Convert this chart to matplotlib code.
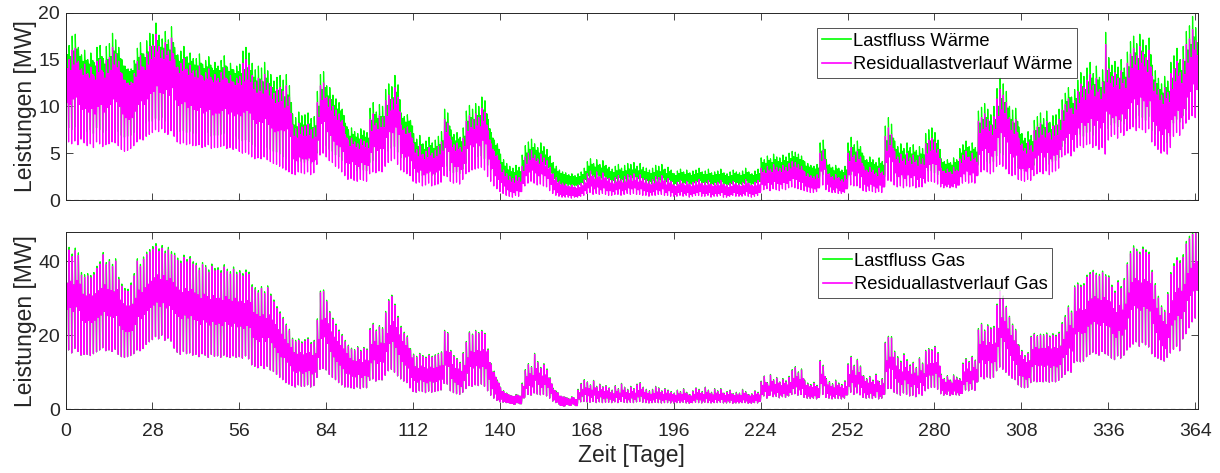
import numpy as np
import matplotlib
matplotlib.use("Agg")
import matplotlib.pyplot as plt

# ---------------- data ----------------
# Residuallastverlauf Waerme: daily night low / morning peak / daytime level [MW]
w_res_peak = [
    15.5,15.0,16.0,16.2,14.8,14.0,14.5, 13.5,14.2,13.2,14.8,15.0,13.6,14.9,
    15.2,16.3,15.6,14.8,13.5,12.8,12.5, 12.6,13.5,14.8,15.4,14.2,15.6,16.4,
    16.5,17.7,16.4,16.0,16.8,15.9,17.3, 15.0,14.2,14.6,15.1,14.0,14.4,13.8,
    13.8,14.3,13.2,13.6,14.0,12.8,13.4, 13.0,13.6,14.1,12.9,13.3,12.6,13.0,
    13.2,14.6,15.0,14.4,13.3,12.6,13.0, 12.8,13.4,12.5,12.1,11.4,11.8,12.0,
    11.6,12.2,11.0,8.0,7.6,8.2,7.8, 7.9,8.1,7.5,7.7,10.4,12.2,12.5,
    11.0,10.8,10.0,9.6,9.2,8.5,7.0, 6.4,6.6,6.2,6.0,6.5,6.3,6.1,
    8.6,9.2,8.2,9.0,8.8,10.6,11.2, 10.8,12.0,11.0,8.0,7.6,7.8,7.2,
    6.0,5.4,5.8,4.9,5.2,5.6,5.0, 5.3,5.7,6.2,8.6,8.2,6.4,5.9,
    6.1,5.6,6.6,8.4,9.0,8.6,9.2, 8.8,9.8,9.4,7.4,6.0,5.2,4.8,
    3.8,3.2,2.8,2.5,2.3,2.6,2.4, 3.6,4.6,5.0,5.3,4.8,4.4,4.9,
    4.5,4.2,3.5,2.8,2.4,2.0,1.8, 1.7,1.5,1.6,1.4,1.6,1.8,2.2,
    2.8,3.1,2.6,3.0,2.5,2.9,2.4, 2.3,2.1,2.4,2.6,2.2,2.5,2.7,
    2.6,2.8,2.4,2.7,2.3,2.2,2.0, 2.2,2.5,2.4,2.6,2.1,2.3,2.0,
    1.6,1.9,2.1,1.8,2.0,1.7,1.9, 2.0,2.2,1.8,1.9,2.1,1.7,1.8,
    1.9,2.1,1.7,1.6,1.8,2.0,1.8, 1.7,1.9,2.2,1.8,1.6,1.9,2.1,
    3.4,3.2,3.6,3.3,3.8,3.5,3.4, 3.7,3.5,3.9,4.1,4.0,3.8,3.6,
    3.0,2.8,2.6,2.5,2.7,5.0,5.3, 3.3,2.8,2.5,2.7,2.4,2.2,2.6,
    5.0,5.6,4.8,5.2,4.6,3.6,3.2, 3.5,3.2,2.9,3.4,3.0,6.8,7.7,
    7.0,5.2,4.6,4.9,4.4,5.0,4.5, 4.8,4.2,4.6,4.4,6.0,6.4,6.6,
    6.2,5.4,3.4,3.1,3.3,3.0,3.5, 3.2,4.4,4.8,5.2,4.6,5.0,4.5,
    8.4,8.8,9.2,8.6,8.0,8.9,10.8, 11.8,11.2,10.4,8.8,8.4,8.6,6.6,
    6.0,5.5,6.2,5.8,7.4,7.8,8.2, 7.6,8.4,7.2,7.9,8.0,8.6,9.6,
    10.2,10.8,9.8,10.6,11.6,12.4,12.0, 12.8,13.4,12.2,13.0,11.8,12.6,16.6,
    14.0,13.2,13.6,13.0,13.8,12.9,14.6, 15.6,16.2,15.4,16.4,15.8,15.2,16.0,
    13.2,12.6,11.8,11.2,12.0,11.5,13.5, 14.0,14.8,13.6,15.0,16.6,17.2,18.2,
    17.0]
w_res_low = [
    0.0,6.2,6.0,6.3,5.9,6.5,6.1, 5.8,6.0,5.6,6.2,6.0,5.7,5.9,
    6.0,6.2,6.1,5.8,5.4,5.2,5.3, 5.5,5.8,6.2,6.5,6.4,6.8,7.0,
    7.2,7.5,7.3,7.6,7.2,7.0,7.4, 6.8,6.2,6.0,6.1,5.9,6.0,5.8,
    5.8,5.9,5.6,5.7,5.9,5.5,5.6, 5.6,5.7,5.8,5.5,5.6,5.4,5.5,
    5.2,5.0,5.1,4.9,4.6,4.4,4.5, 4.4,4.6,4.3,4.1,3.9,3.8,3.6,
    3.4,3.2,3.0,2.8,2.7,3.0,2.9, 2.8,3.0,2.7,2.9,3.8,4.8,5.0,
    4.6,4.2,4.0,3.6,3.4,3.0,2.6, 2.2,2.3,2.1,2.0,2.2,2.1,2.0,
    2.8,3.0,2.9,3.1,3.0,3.6,4.0, 4.2,4.4,3.8,3.2,3.0,2.8,2.6,
    2.0,1.8,1.9,1.5,1.6,1.8,1.5, 1.6,1.7,1.9,2.6,2.5,2.0,1.8,
    1.9,1.7,2.2,2.8,3.0,3.2,3.3, 3.4,3.5,3.2,2.5,2.0,1.5,1.2,
    0.9,0.7,0.5,0.4,0.3,0.5,0.4, 0.9,1.5,1.8,2.0,1.8,1.6,1.7,
    1.5,1.4,1.0,0.7,0.5,0.4,0.3, 0.3,0.3,0.2,0.3,0.3,0.4,0.5,
    0.7,0.8,0.6,0.7,0.6,0.7,0.6, 0.5,0.5,0.6,0.6,0.5,0.6,0.7,
    0.6,0.7,0.6,0.6,0.5,0.5,0.4, 0.5,0.5,0.6,0.6,0.5,0.5,0.4,
    0.4,0.4,0.5,0.4,0.5,0.3,0.4, 0.5,0.5,0.4,0.4,0.5,0.3,0.4,
    0.4,0.5,0.3,0.3,0.4,0.5,0.4, 0.4,0.4,0.5,0.4,0.3,0.4,0.5,
    1.0,1.1,1.2,1.0,1.2,1.1,1.0, 1.2,1.1,1.3,1.4,1.3,1.2,1.1,
    1.0,0.9,0.8,0.8,0.9,1.5,1.6, 1.1,0.9,0.8,0.8,0.7,0.7,0.8,
    1.4,1.6,1.5,1.5,1.3,1.0,0.9, 1.0,0.9,0.8,0.9,0.8,1.8,2.1,
    2.0,1.6,1.4,1.5,1.3,1.5,1.4, 1.5,1.3,1.4,1.4,1.8,2.0,2.0,
    1.9,1.7,1.4,1.3,1.4,1.3,1.4, 1.3,1.6,1.8,2.0,1.8,1.9,1.8,
    2.8,3.0,3.2,3.0,2.8,3.0,3.6, 3.8,3.6,3.3,2.8,2.6,2.7,2.2,
    2.1,2.0,2.2,2.1,2.6,2.8,3.0, 2.8,3.1,2.7,3.0,3.1,3.4,4.6,
    4.8,5.0,4.7,5.2,5.6,5.8,5.6, 5.9,6.0,5.6,5.8,5.4,5.6,4.9,
    6.4,6.8,7.0,6.6,7.2,6.9,7.4, 7.6,7.8,7.4,7.7,7.5,7.2,7.6,
    6.2,5.8,5.4,5.0,5.2,4.9,5.6, 6.8,7.2,6.9,7.6,8.2,8.6,9.0,
    8.8]
w_res_mid = [
    12.2,12.0,12.6,12.8,12.0,11.5,11.6, 11.2,11.6,11.0,11.8,12.0,11.2,11.7,
    12.0,12.6,12.3,11.8,11.0,10.6,10.4, 10.6,11.3,12.0,12.4,12.0,12.6,13.2,
    13.4,14.0,13.3,13.2,13.6,13.0,13.8, 12.4,11.8,12.0,12.2,11.6,11.8,11.4,
    11.3,11.6,11.0,11.2,11.4,10.8,11.0, 10.9,11.2,11.4,10.8,11.0,10.6,10.8,
    10.6,11.0,11.2,10.9,10.2,9.8,10.0, 9.8,10.2,9.6,9.2,8.8,8.9,9.0,
    8.6,8.8,8.0,5.6,5.4,5.8,5.6, 5.6,5.7,5.3,5.5,7.6,9.4,9.6,
    8.6,8.2,7.6,7.2,7.0,6.5,5.3, 4.8,5.0,4.7,4.5,4.9,4.7,4.6,
    6.2,6.8,6.4,6.6,6.6,7.8,8.4, 8.4,9.0,8.2,6.2,5.8,5.9,5.4,
    4.2,3.8,4.0,3.5,3.7,3.9,3.6, 3.8,4.0,4.4,6.4,6.0,4.8,4.4,
    4.5,4.2,4.8,6.4,6.8,6.6,7.0, 6.8,7.4,7.0,5.4,4.4,3.6,3.2,
    2.4,2.0,1.6,1.4,1.3,1.5,1.4, 2.4,3.2,3.6,3.8,3.5,3.2,3.4,
    3.1,2.8,2.2,1.6,1.3,1.1,1.0, 1.0,0.9,0.9,0.8,0.9,1.1,1.4,
    1.8,2.0,1.7,1.9,1.6,1.8,1.5, 1.4,1.3,1.5,1.6,1.4,1.5,1.7,
    1.6,1.7,1.5,1.6,1.4,1.3,1.2, 1.3,1.5,1.4,1.6,1.2,1.4,1.2,
    1.0,1.2,1.3,1.1,1.2,1.0,1.1, 1.2,1.3,1.1,1.1,1.2,1.0,1.1,
    1.1,1.2,1.0,0.9,1.0,1.2,1.1, 1.0,1.1,1.3,1.1,1.0,1.1,1.2,
    2.3,2.2,2.5,2.3,2.6,2.4,2.3, 2.5,2.4,2.7,2.9,2.8,2.6,2.5,
    2.0,1.9,1.8,1.7,1.8,3.6,3.8, 2.2,1.9,1.6,1.8,1.5,1.4,1.7,
    3.4,3.8,3.3,3.6,3.2,2.4,2.2, 2.3,2.1,1.9,2.2,2.0,4.6,5.2,
    4.8,3.6,3.2,3.4,3.0,3.4,3.1, 3.3,2.9,3.1,3.0,4.2,4.5,4.6,
    4.4,3.8,2.4,2.2,2.3,2.1,2.4, 2.3,3.2,3.5,3.8,3.4,3.6,3.3,
    6.0,6.4,6.6,6.2,5.8,6.4,7.8, 8.4,8.0,7.4,6.2,5.8,6.0,4.6,
    4.3,4.0,4.4,4.2,5.4,5.7,6.0, 5.6,6.1,5.4,5.8,5.9,6.4,7.4,
    8.0,8.4,7.8,8.3,9.0,9.6,9.3, 9.8,10.2,9.5,10.0,9.2,9.8,11.0,
    10.8,10.4,10.6,10.2,10.8,10.3,11.4, 12.2,12.6,12.0,12.8,12.4,11.8,12.4,
    10.0,9.6,9.0,8.6,9.2,8.8,10.2, 10.8,11.4,10.6,11.6,12.8,13.4,14.2,
    13.6]
# half width of the dense daytime band, per week [MW]
w_band_hw = [
    1.8,1.8,1.8,1.8,1.8,1.7,1.7,1.6,1.6,1.5, 1.2,1.2,1.3,0.9,1.1,1.2,0.8,0.8,0.9,1.0,
    0.5,0.6,0.5,0.4,0.5,0.4,0.4,0.4,0.4,0.4, 0.4,0.4,0.6,0.6,0.5,0.5,0.7,0.6,0.7,0.7,
    0.6,0.7,1.1,1.2,0.9,1.0,1.3,1.5,1.6,1.8, 1.6,1.8,1.8]
# Lastfluss Waerme lies above the residual load by this weekly offset [MW]
w_gap_weekly = [
    1.5,1.5,1.5,1.4,1.2,1.3,1.3,1.3,1.3,1.3,1.2,1.2,1.2,1.1,1.2,1.3,
    1.1,1.1,1.1,1.2,1.1,1.2,1.2,1.2,1.3,1.2,1.2,1.2,1.2,1.2,1.2,1.2,
    1.1,1.1,1.1,1.0,1.1,1.1,1.1,1.1,1.0,1.1,1.1,1.2,1.1,1.1,1.2,1.3,
    1.2,1.3,1.2,1.4,1.4]

# Residuallastverlauf Gas: daily night low / morning peak / daytime level [MW]
g_res_peak = [
    42.5,43.0,41.2,42.8,41.5,36.2,35.6, 36.0,35.5,36.3,38.0,39.2,41.7,39.0,
    39.8,38.5,40.0,35.0,33.2,32.0,31.8, 33.5,36.0,40.0,38.5,40.5,41.8,42.5,
    43.2,44.0,42.6,43.5,42.0,43.0,41.8, 41.5,40.2,39.4,41.0,39.8,40.6,39.2,
    38.8,37.5,39.0,38.2,37.0,38.6,37.4, 37.6,36.8,38.4,37.2,36.5,37.8,36.4,
    36.8,36.0,37.0,36.4,33.0,32.2,31.4, 32.6,31.2,32.8,30.6,29.0,27.2,25.8,
    24.4,22.6,21.2,18.8,18.2,18.6,17.8, 18.4,18.9,17.6,18.2,24.0,31.5,31.8,
    29.0,26.0,24.2,22.6,21.0,19.8,18.2, 17.0,16.2,15.8,16.6,15.6,16.4,16.0,
    21.4,22.8,21.0,22.2,21.6,26.0,29.2, 30.4,28.0,24.7,22.0,20.4,19.4,16.0,
    14.6,14.0,14.8,14.2,13.8,14.5,14.0, 14.4,14.8,15.2,21.0,20.4,15.6,14.2,
    13.4,12.4,15.0,18.0,20.6,20.0,21.0, 20.4,21.0,20.2,16.0,12.0,10.0,7.6,
    5.8,4.8,4.2,3.6,3.2,3.8,3.4, 6.8,10.4,12.0,11.2,14.8,12.6,11.0,
    12.0,10.6,8.2,5.4,4.6,3.2,2.8, 3.0,2.6,3.2,2.4,5.2,6.8,7.8,
    7.2,6.4,7.6,6.0,6.6,5.9,6.2, 5.6,5.0,6.2,5.4,6.8,5.8,5.2,
    6.0,5.4,6.6,7.0,5.8,5.2,4.8, 5.2,6.0,5.6,4.8,5.4,5.0,4.6,
    4.2,5.0,4.6,5.4,4.4,3.8,4.8, 5.6,5.2,4.6,5.8,5.0,4.4,5.4,
    4.8,5.4,4.2,4.6,5.0,4.0,4.4, 4.2,5.2,4.6,3.8,4.0,4.8,4.4,
    7.4,8.8,7.0,9.2,7.8,8.4,7.2, 8.0,7.4,8.6,10.4,11.2,9.8,10.6,
    7.6,6.8,6.4,7.0,6.2,12.9,11.6, 8.0,7.2,6.6,7.6,6.8,6.4,7.4,
    12.0,14.0,11.6,13.2,11.4,8.8,8.0, 8.6,7.6,9.2,7.2,8.0,17.8,19.4,
    19.2,15.3,13.8,12.6,14.6,13.0,11.6, 12.4,11.0,13.6,12.2,15.6,16.1,15.8,
    16.7,15.0,9.2,8.0,8.8,7.6,9.0, 8.4,8.0,12.2,13.4,12.6,14.0,13.0,
    21.4,22.8,21.0,22.4,21.6,22.0,28.0, 31.8,30.2,27.4,24.7,22.6,21.2,17.0,
    15.6,14.2,15.0,19.4,20.2,19.6,20.0, 19.8,20.2,19.4,20.0,19.6,20.4,23.0,
    24.8,27.4,26.0,32.8,33.6,33.0,33.4, 35.7,36.4,37.0,36.2,35.9,36.8,35.8,
    35.5,33.0,31.4,34.2,32.6,34.8,39.0, 42.0,43.5,42.6,41.8,43.2,42.4,41.8,
    37.0,33.4,30.0,27.4,26.2,31.0,36.4, 38.6,40.2,39.4,41.0,44.6,46.0,47.2,
    47.7]
g_res_low = [
    0.0,16.0,15.2,16.4,15.6,14.6,14.8, 14.8,14.5,15.0,15.5,16.0,16.6,15.8,
    16.0,15.6,16.2,14.8,14.2,14.0,14.2, 14.5,15.0,16.0,15.8,16.4,17.5,18.2,
    18.8,19.6,19.0,20.0,18.6,19.2,18.4, 16.5,15.4,14.8,15.6,15.0,15.2,14.6,
    14.8,14.2,15.0,14.6,14.0,14.8,14.3, 14.4,14.0,14.6,14.2,14.0,14.4,14.0,
    14.2,13.8,14.4,13.6,12.0,11.6,11.2, 11.8,11.0,11.6,10.6,10.2,9.4,8.6,
    8.0,7.2,6.8,6.4,6.0,6.6,6.2, 6.2,6.6,6.0,6.4,8.6,10.8,11.0,
    10.6,9.4,8.6,8.0,7.2,6.6,6.0, 6.0,5.8,5.6,6.0,5.6,5.9,5.8,
    7.8,8.2,7.6,8.0,7.9,9.2,10.4, 10.8,10.0,9.0,8.2,7.6,7.2,5.8,
    4.8,4.6,5.0,4.8,4.5,4.9,4.6, 4.8,5.0,5.2,7.0,6.8,5.0,4.5,
    4.2,4.0,4.6,5.6,6.4,6.2,6.6, 6.4,6.8,6.2,5.0,3.8,3.0,2.4,
    2.0,1.9,1.8,1.7,1.6,1.8,1.7, 2.4,3.6,4.0,3.8,4.4,4.1,3.9,
    4.0,3.6,3.0,2.2,1.8,1.4,1.3, 1.3,1.2,1.3,1.2,1.8,2.0,2.1,
    2.0,1.9,2.1,1.8,2.0,1.8,1.9, 1.9,1.8,2.0,1.8,2.1,1.9,1.8,
    1.9,1.8,2.0,2.1,1.9,1.8,1.7, 1.8,1.9,1.8,1.7,1.8,1.8,1.7,
    1.7,1.8,1.8,1.9,1.7,1.6,1.8, 1.9,1.8,1.7,1.9,1.8,1.7,1.8,
    1.8,1.9,1.7,1.7,1.8,1.6,1.7, 1.7,1.8,1.8,1.6,1.6,1.8,1.7,
    3.2,3.6,3.0,3.8,3.4,3.5,3.1, 3.4,3.2,3.6,4.0,4.2,3.8,4.0,
    3.2,3.0,2.9,3.0,2.8,4.4,4.0, 3.2,3.0,2.8,3.0,2.9,2.8,3.0,
    4.0,4.6,4.0,4.4,3.9,3.2,3.0, 3.1,2.9,3.2,2.8,3.0,5.2,5.6,
    5.6,4.6,4.2,3.8,4.4,4.0,3.6, 3.8,3.4,4.2,3.8,5.0,5.6,5.9,
    5.9,5.4,4.2,3.8,4.0,3.7,4.0, 3.9,3.8,4.8,5.2,5.0,5.4,5.1,
    8.4,8.8,8.2,8.7,8.4,8.6,10.4, 11.4,10.8,10.0,9.2,8.4,8.0,6.6,
    6.0,5.8,5.9,7.2,7.6,7.4,7.5, 7.4,7.6,7.3,7.5,7.4,7.8,8.6,
    9.4,10.4,10.0,12.6,13.0,12.8,13.0, 14.2,14.8,15.4,15.0,14.6,15.6,15.0,
    14.6,13.8,13.4,14.4,13.8,14.6,16.0, 16.8,17.6,18.2,17.0,18.0,17.4,16.8,
    15.0,14.2,13.8,13.4,13.0,14.0,15.2, 16.2,17.0,15.8,19.0,20.4,22.0,23.6,
    24.6]
g_res_mid = [
    30.5,31.0,30.0,31.2,30.2,27.5,27.0, 27.5,27.0,27.6,28.4,29.0,30.0,28.8,
    28.6,28.2,28.8,26.0,25.0,24.4,24.4, 24.8,26.4,28.6,28.0,29.2,30.2,31.0,
    31.8,32.6,31.4,32.4,31.0,31.6,30.6, 29.4,28.6,28.0,29.0,28.2,28.8,27.8,
    27.4,26.4,27.6,27.0,26.2,27.2,26.4, 26.6,26.0,27.0,26.2,25.8,26.6,25.6,
    25.8,25.2,26.0,25.4,22.8,22.2,21.6, 22.4,21.4,22.4,21.0,19.8,18.4,17.2,
    16.4,15.2,14.2,12.8,12.4,12.8,12.2, 12.6,12.9,12.0,12.5,16.4,21.6,22.0,
    20.4,18.2,16.8,15.6,14.6,13.6,12.4, 11.6,11.0,10.8,11.4,10.6,11.2,11.0,
    15.0,15.8,14.8,15.4,15.2,18.0,20.2, 21.0,19.4,17.4,15.6,14.6,13.8,11.2,
    9.6,9.2,9.8,9.4,9.0,9.5,9.2, 9.4,9.8,10.0,13.8,13.4,10.2,9.2,
    8.8,8.2,9.8,11.8,13.6,13.2,13.8, 13.4,13.8,13.2,10.4,7.8,6.4,4.8,
    3.8,3.2,2.9,2.6,2.4,2.8,2.5, 4.6,7.2,8.0,7.6,9.4,8.2,7.4,
    8.0,7.2,5.6,3.8,3.2,2.3,2.1, 2.2,1.9,2.3,1.8,3.6,4.4,4.9,
    4.6,4.2,4.8,3.9,4.3,3.8,4.0, 3.6,3.3,4.0,3.5,4.3,3.7,3.4,
    3.9,3.5,4.2,4.4,3.7,3.4,3.2, 3.4,3.8,3.6,3.2,3.5,3.3,3.1,
    2.9,3.3,3.1,3.5,3.0,2.7,3.2, 3.6,3.4,3.1,3.7,3.3,3.0,3.5,
    3.2,3.5,2.9,3.1,3.3,2.8,3.0, 2.9,3.4,3.1,2.7,2.8,3.2,3.0,
    5.2,6.0,5.0,6.2,5.4,5.8,5.1, 5.6,5.2,5.9,7.0,7.4,6.6,7.0,
    5.2,4.8,4.6,4.9,4.4,8.2,7.6, 5.4,5.0,4.6,5.2,4.8,4.5,5.0,
    7.8,8.8,7.6,8.4,7.4,6.0,5.5, 5.8,5.2,6.2,5.0,5.4,11.6,12.6,
    12.4,10.0,9.0,8.4,9.6,8.6,7.8, 8.2,7.4,8.8,8.0,10.4,10.8,10.8,
    11.2,10.2,6.6,5.8,6.4,5.6,6.4, 6.1,5.9,8.4,9.2,8.6,9.6,9.0,
    15.0,15.8,14.8,15.6,15.0,15.4,19.4, 22.0,21.0,19.0,17.2,15.8,14.8,11.8,
    11.2,10.4,10.8,13.8,14.4,14.0,14.2, 14.0,14.4,13.8,14.2,13.9,14.6,16.4,
    17.8,19.6,18.8,23.4,24.0,23.6,23.8, 25.8,26.4,27.0,26.4,26.0,26.8,26.0,
    25.6,23.8,22.8,24.6,23.4,25.0,28.0, 30.6,31.6,31.0,30.4,31.4,30.8,30.2,
    26.4,24.0,22.0,20.4,19.6,22.6,26.0, 27.8,29.0,28.2,30.0,33.0,34.4,35.6,
    36.0]
g_band_hw = [
    3.5,3.5,3.4,3.5,3.6,3.5,3.4,3.3,3.3,3.0, 2.4,2.4,2.6,2.0,2.4,2.6,1.8,1.8,2.0,2.2,
    1.0,1.5,1.2,0.8,0.9,0.8,0.8,0.8,0.8,0.8, 0.8,0.8,1.2,1.3,1.2,1.1,1.5,1.4,1.6,1.5,
    1.4,1.6,2.4,2.6,2.2,2.4,3.0,3.3,3.3,3.6, 3.2,3.6,3.8]
# Lastfluss Gas lies slightly above the residual load by this weekly offset [MW]
g_gap_weekly = [
    0.7,0.6,0.6,0.6,0.7,0.6,0.6,0.6,0.6,0.5,0.4,0.4,0.4,0.3,0.4,0.4,
    0.3,0.3,0.3,0.3,0.2,0.3,0.3,0.2,0.2,0.2,0.2,0.2,0.2,0.2,0.2,0.2,
    0.2,0.3,0.3,0.3,0.3,0.3,0.4,0.3,0.3,0.3,0.4,0.4,0.3,0.4,0.5,0.5,
    0.5,0.6,0.5,0.7,0.8]

x_ticks = [0, 28, 56, 84, 112, 140, 168, 196, 224, 252, 280, 308, 336, 364]
w_yticks = [0, 5, 10, 15, 20]
g_yticks = [0, 20, 40]
labels_w = ["Lastfluss Wärme", "Residuallastverlauf Wärme"]
labels_g = ["Lastfluss Gas", "Residuallastverlauf Gas"]


def weekly_to_daily(weekly, n):
    return np.asarray(weekly, dtype=float)[np.arange(n) // 7]


def daily_path(low, peak, mid, hw):
    """One day: night low, morning peak, then the daytime level swinging
    within its band (mid +/- hw)."""
    low, peak, mid, hw = (np.asarray(a, dtype=float) for a in (low, peak, mid, hw))
    days = np.arange(len(low))
    hi, lo = mid + hw, mid - hw
    offs = [0.0, 0.15, 0.27, 0.40, 0.53, 0.66, 0.79, 0.90]
    cols = [low, peak, hi, lo, hi, lo, hi, lo]
    t = np.column_stack([days + o for o in offs]).ravel()
    v = np.column_stack(cols).ravel()
    return t, v


n = len(w_res_peak)
wg = weekly_to_daily(w_gap_weekly, n)
gg = weekly_to_daily(g_gap_weekly, n)
whw = weekly_to_daily(w_band_hw, n)
ghw = weekly_to_daily(g_band_hw, n)

tw_r, vw_r = daily_path(w_res_low, w_res_peak, w_res_mid, whw)
tw_l, vw_l = daily_path(np.asarray(w_res_low) + wg, np.asarray(w_res_peak) + wg,
                        np.asarray(w_res_mid) + wg, whw)
tg_r, vg_r = daily_path(g_res_low, g_res_peak, g_res_mid, ghw)
tg_l, vg_l = daily_path(g_res_low, np.asarray(g_res_peak) + gg, g_res_mid, ghw)

# ---------------- figure ----------------
plt.rcParams['font.family'] = ['Liberation Sans', 'DejaVu Sans']
W, H = 1220, 473
fig = plt.figure(figsize=(W / 100, H / 100), dpi=100)


def fx(px):
    return px / W


def fy(py):
    return 1 - py / H


ax1 = fig.add_axes([fx(65.5), fy(200), fx(1198.3 - 65.5), fy(12.7) - fy(200)])
ax2 = fig.add_axes([fx(65.5), fy(409.3), fx(1198.3 - 65.5), fy(232.3) - fy(409.3)])

GREEN = '#00FF00'
MAG = '#FF00FF'
lw = 0.9
TXT = '#262626'

l1, = ax1.plot(tw_l, vw_l, color=GREEN, lw=lw)
l2, = ax1.plot(tw_r, vw_r, color=MAG, lw=lw)
ax1.axhline(0, color='k', ls='--', lw=0.8, dashes=(4, 3))
l3, = ax2.plot(tg_l, vg_l, color=GREEN, lw=lw)
l4, = ax2.plot(tg_r, vg_r, color=MAG, lw=lw)
ax2.axhline(0, color='k', ls='--', lw=0.8, dashes=(4, 3))

for ax in (ax1, ax2):
    ax.set_xlim(0, 365)
    ax.set_xticks(x_ticks)
    ax.tick_params(direction='in', length=5, width=0.6, colors=TXT,
                   labelsize=14, top=True, right=True)
    ax.tick_params(axis='x', pad=10)
    ax.tick_params(axis='y', pad=4)
    for s in ax.spines.values():
        s.set_linewidth(0.7)
        s.set_color(TXT)
    ax.set_ylabel("Leistungen [MW]", fontsize=16.5, color=TXT, labelpad=1)

ax1.set_ylim(0, 20)
ax1.set_yticks(w_yticks)
ax1.set_xticklabels([])
ax2.set_ylim(0, 47.75)
ax2.set_yticks(g_yticks)
ax2.set_xticklabels([str(v) for v in x_ticks])
ax2.set_xlabel("Zeit [Tage]", fontsize=16.5, color=TXT, labelpad=3)

leg_kw = dict(loc='upper left', fontsize=13.2, frameon=True, fancybox=False,
              edgecolor=TXT, handlelength=1.6, handletextpad=0.12,
              borderpad=0.25, labelspacing=0.36, borderaxespad=0,
              bbox_transform=fig.transFigure)
lg1 = ax1.legend([l1, l2], labels_w, bbox_to_anchor=(fx(817), fy(28)), **leg_kw)
lg2 = ax2.legend([l3, l4], labels_g, bbox_to_anchor=(fx(818), fy(248)), **leg_kw)
for lg in (lg1, lg2):
    lg.get_frame().set_linewidth(0.7)
    for h in lg.get_lines():
        h.set_linewidth(1.2)

fig.savefig("out.png", dpi=100)
